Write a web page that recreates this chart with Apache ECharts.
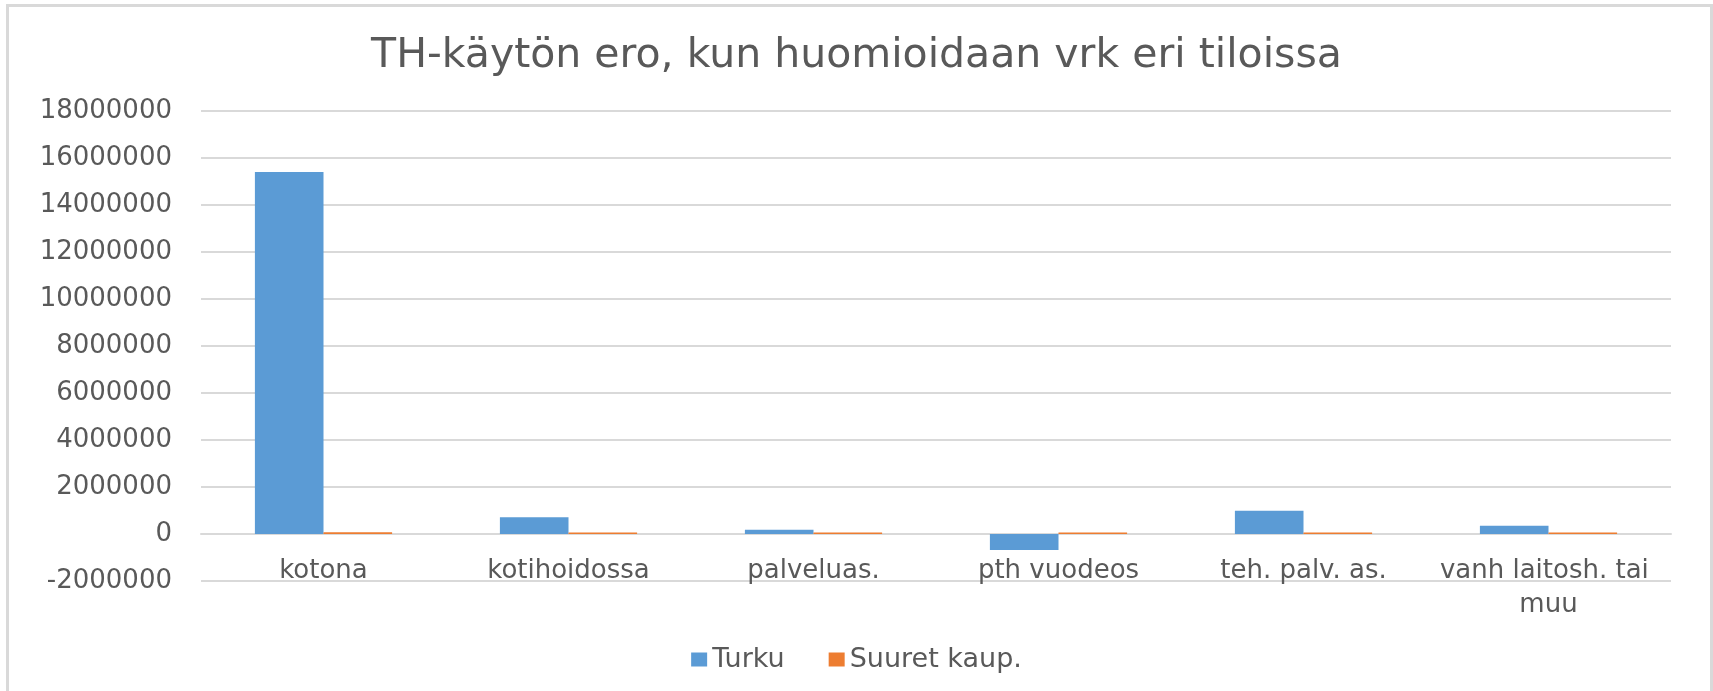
<!DOCTYPE html>
<html>
<head>
<meta charset="utf-8">
<script src="https://cdn.jsdelivr.net/npm/echarts@6/dist/echarts.min.js"></script>
<style>
  html, body { margin: 0; padding: 0; background: #fff; }
  #chart { width: 1713px; height: 691px; }
</style>
</head>
<body>
<div id="chart"></div>
<script>
const categories = ['kotona', 'kotihoidossa', 'palveluas.', 'pth vuodeos', 'teh. palv. as.', 'vanh laitosh. tai muu'];
const turku = [15400000, 710000, 180000, -680000, 990000, 350000];
const suuretKaup = [70000, 60000, 60000, 60000, 60000, 60000];
const yTicks = { min: -2000000, max: 18000000, interval: 2000000 };

const textColor = '#595959';
const font = 'DejaVu Sans';

const myChart = echarts.init(document.getElementById('chart'));
const option = {
    backgroundColor: '#ffffff',
    animation: false,
    title: {
        text: 'TH-käytön ero, kun huomioidaan vrk eri tiloissa',
        left: 'center',
        top: 31,
        textStyle: { fontFamily: font, fontSize: 41, fontWeight: 'normal', color: textColor }
    },
    graphic: [{
        type: 'rect',
        shape: { x: 7.5, y: 5.5, width: 1704, height: 700 },
        style: { fill: 'none', stroke: '#d9d9d9', lineWidth: 3 },
        silent: true
    }],
    legend: {
        data: ['Turku', 'Suuret kaup.'],
        left: 'center',
        top: 641,
        icon: 'rect',
        itemWidth: 16,
        itemHeight: 14,
        itemGap: 44,
        textStyle: { fontFamily: font, fontSize: 27, color: textColor }
    },
    grid: { left: 201, right: 42, top: 111, bottom: 110, containLabel: false },
    xAxis: {
        type: 'category',
        data: categories,
        // the axis sits on the zero line, 47px above the bottom of the grid
        offset: -47,
        axisLine: { show: true, onZero: false, lineStyle: { color: '#d9d9d9', width: 2 } },
        axisTick: { show: false },
        axisLabel: {
            interval: 0,
            margin: 20,
            width: 240,
            overflow: 'break',
            lineHeight: 34,
            fontFamily: font,
            fontSize: 26,
            color: textColor
        }
    },
    yAxis: {
        type: 'value',
        min: yTicks.min,
        max: yTicks.max,
        interval: yTicks.interval,
        axisLine: { show: false },
        axisTick: { show: false },
        splitLine: { lineStyle: { color: '#d9d9d9', width: 2 } },
        axisLabel: {
            margin: 29,
            fontFamily: font,
            fontSize: 26,
            color: textColor,
            formatter: v => String(v)
        }
    },
    series: [{
        name: 'Turku',
        type: 'bar',
        data: turku,
        barGap: '0%',
        barCategoryGap: '44%',
        itemStyle: { color: '#5B9BD5' }
    }, {
        name: 'Suuret kaup.',
        type: 'bar',
        data: suuretKaup,
        itemStyle: { color: '#ED7D31' }
    }]
};
myChart.setOption(option);
</script>
</body>
</html>
